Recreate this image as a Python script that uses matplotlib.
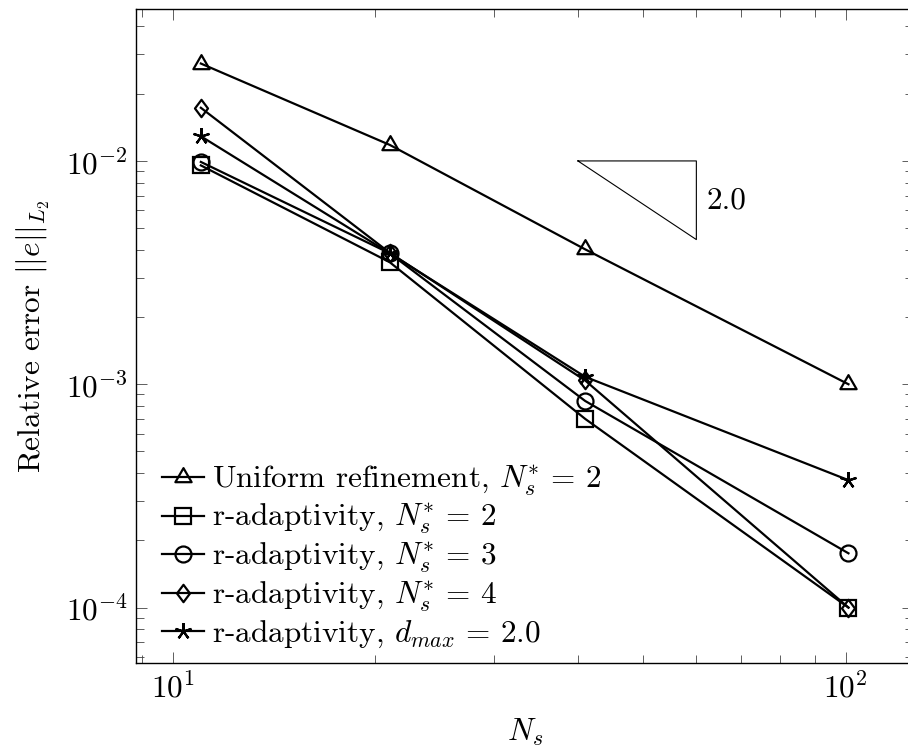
import numpy as np
import matplotlib
matplotlib.use("Agg")
import matplotlib.pyplot as plt
from matplotlib.path import Path
from matplotlib.ticker import FixedLocator, NullFormatter

# --------------------------------------------------------------
# Dane
# --------------------------------------------------------------
Ns = [11, 21, 41, 101]
err_uniform = [0.0273, 0.0118, 0.00402, 0.00100]
err_r2 = [0.00955, 0.00352, 0.000700, 0.000100]
err_r3 = [0.00990, 0.00386, 0.000842, 0.000175]
err_r4 = [0.0173, 0.00388, 0.00104, 0.000100]
err_dmax = [0.0129, 0.00386, 0.00108, 0.000372]

labels = [
    r"Uniform refinement, $N_s^{*}\,=\,2$",
    r"r-adaptivity, $N_s^{*}\,=\,2$",
    r"r-adaptivity, $N_s^{*}\,=\,3$",
    r"r-adaptivity, $N_s^{*}\,=\,4$",
    r"r-adaptivity, $d_{max}\,=\,2.0$",
]

# trojkat nachylenia
slope_x = [40, 60]
slope_y0 = 0.01
slope_order = 2.0

# --------------------------------------------------------------
# Styl
# --------------------------------------------------------------
plt.rcParams["font.family"] = "serif"
plt.rcParams["font.serif"] = ["cmr10", "DejaVu Serif"]
plt.rcParams["mathtext.fontset"] = "cm"
plt.rcParams["axes.unicode_minus"] = False
plt.rcParams["axes.formatter.use_mathtext"] = True
FS = 22.5

# znaczniki jak w pgfplots
tri = Path([(0, 1), (-0.866, -0.5), (0.866, -0.5), (0, 1)],
           [Path.MOVETO, Path.LINETO, Path.LINETO, Path.CLOSEPOLY])
dia = Path([(0, 1), (0.75, 0), (0, -1), (-0.75, 0), (0, 1)],
           [Path.MOVETO, Path.LINETO, Path.LINETO, Path.LINETO, Path.CLOSEPOLY])
markers = [tri, "s", "o", dia, (5, 2, 0)]
sizes = [13.5, 11, 11.5, 12.5, 12]
series = [err_uniform, err_r2, err_r3, err_r4, err_dmax]

fig = plt.figure(figsize=(9.08, 7.5), dpi=100)
ax = fig.add_axes([136 / 908, (750 - 663.3) / 750, (913.3 - 136) / 908, (663.3 - 9) / 750])

for y, m, ms, lab in zip(series, markers, sizes, labels):
    ax.plot(Ns, y, color="k", lw=1.6, marker=m, ms=ms, mew=1.6,
            mfc="none", mec="k", label=lab)

# trojkat nachylenia
x0, x1 = slope_x
y1 = slope_y0 * (x0 / x1) ** slope_order
ax.plot([x0, x1, x1, x0], [slope_y0, slope_y0, y1, slope_y0], color="k", lw=0.8)
ax.text(x1 * 1.035, np.sqrt(slope_y0 * y1), f"{slope_order:.1f}", fontsize=FS,
        ha="left", va="center")

ax.set_xscale("log")
ax.set_yscale("log")
ax.set_xlim(8.81, 126.1)
ax.set_ylim(5.63e-5, 0.0479)

ax.set_xticks([10, 100])
ax.xaxis.set_minor_locator(FixedLocator([9] + list(range(20, 100, 10))))
ax.xaxis.set_minor_formatter(NullFormatter())
ax.yaxis.set_minor_formatter(NullFormatter())

ax.tick_params(which="both", direction="in", top=True, right=True,
               labelsize=FS, color="#444444", width=0.6)
ax.tick_params(which="major", length=8, pad=6)
ax.tick_params(which="minor", length=5.5)
for s in ax.spines.values():
    s.set_linewidth(1.0)

ax.set_xlabel(r"$N_s$", fontsize=FS, labelpad=10)
ax.set_ylabel(r"Relative error $||e||_{L_2}$", fontsize=FS, labelpad=10)

ax.legend(loc="upper left", bbox_to_anchor=(0.033, 0.306), frameon=False,
          fontsize=FS, handlelength=1.36, handletextpad=0.25,
          labelspacing=0.144, borderpad=0, borderaxespad=0)

fig.savefig("out.png", dpi=100)
